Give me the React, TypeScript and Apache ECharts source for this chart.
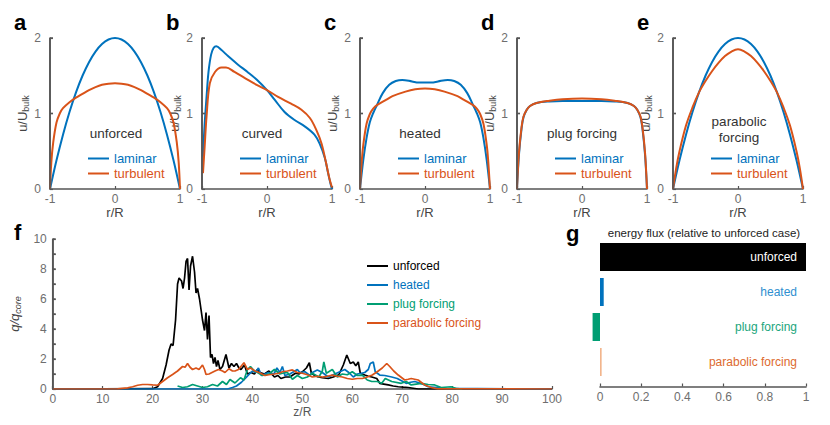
import React, { useEffect, useRef } from 'react';
import * as echarts from 'echarts';

const FONT = "'Liberation Sans', Arial, Helvetica, sans-serif";
const BLUE = '#0072BD';
const ORANGE = '#D95319';
const GREEN = '#009E73';
const AXIS = '#555555';
const TICKTXT = '#6e6e6e';

// ---------- panels a-e : velocity profiles [r/R, u/Ubulk] ----------
const PANEL_LETTERS = ['a', 'b', 'c', 'd', 'e'];
const PANEL_TITLES = ['unforced', 'curved', 'heated', 'plug forcing', 'parabolic\nforcing'];
const PROFILE_LEGEND = ['laminar', 'turbulent'];
const R_MIN = -1;
const R_MAX = 1;
const U_MAX = 2;
const Z_MIN = 0;
const Z_MAX = 100;
const Q_MAX = 10;

const A_LAMINAR = [[-1, 0], [-0.9, 0.38], [-0.8, 0.72], [-0.7, 1.02], [-0.6, 1.28], [-0.5, 1.5], [-0.4, 1.68], [-0.3, 1.82], [-0.2, 1.92], [-0.1, 1.98], [0, 2], [0.1, 1.98], [0.2, 1.92], [0.3, 1.82], [0.4, 1.68], [0.5, 1.5], [0.6, 1.28], [0.7, 1.02], [0.8, 0.72], [0.9, 0.38], [1, 0]];
const A_TURBULENT = [[-1, 0], [-0.98, 0.35], [-0.95, 0.62], [-0.9, 0.88], [-0.85, 1.0], [-0.8, 1.07], [-0.7, 1.15], [-0.6, 1.21], [-0.5, 1.26], [-0.4, 1.31], [-0.3, 1.35], [-0.2, 1.38], [-0.1, 1.395], [0, 1.4], [0.1, 1.395], [0.2, 1.38], [0.3, 1.35], [0.4, 1.31], [0.5, 1.26], [0.6, 1.21], [0.7, 1.15], [0.8, 1.07], [0.85, 1.0], [0.9, 0.88], [0.95, 0.62], [0.98, 0.35], [1, 0]];

const B_LAMINAR = [[-0.985, 0.43], [-0.96, 0.85], [-0.93, 1.22], [-0.9, 1.55], [-0.86, 1.78], [-0.82, 1.87], [-0.78, 1.89], [-0.7, 1.84], [-0.6, 1.76], [-0.45, 1.65], [-0.3, 1.55], [-0.16, 1.45], [0, 1.31], [0.12, 1.18], [0.27, 1.02], [0.43, 0.91], [0.58, 0.83], [0.73, 0.72], [0.81, 0.6], [0.89, 0.41], [0.94, 0.21], [0.98, 0.06], [1, 0]];
const B_TURBULENT = [[-0.985, 0.21], [-0.96, 0.55], [-0.93, 0.96], [-0.88, 1.4], [-0.8, 1.55], [-0.7, 1.61], [-0.63, 1.61], [-0.5, 1.55], [-0.34, 1.47], [-0.16, 1.38], [0, 1.31], [0.17, 1.22], [0.37, 1.13], [0.53, 1.05], [0.66, 0.94], [0.76, 0.78], [0.84, 0.6], [0.91, 0.34], [0.96, 0.14], [1, 0.02]];

const C_LAMINAR = [[-1, 0], [-0.95, 0.38], [-0.9, 0.67], [-0.85, 0.88], [-0.8, 1.0], [-0.74, 1.11], [-0.65, 1.27], [-0.55, 1.38], [-0.45, 1.43], [-0.35, 1.445], [-0.2, 1.425], [-0.1, 1.41], [0, 1.41], [0.1, 1.41], [0.2, 1.425], [0.35, 1.445], [0.45, 1.43], [0.55, 1.38], [0.65, 1.27], [0.74, 1.11], [0.8, 1.0], [0.85, 0.88], [0.9, 0.67], [0.95, 0.38], [1, 0]];
const C_TURBULENT = [[-1, 0], [-0.97, 0.4], [-0.95, 0.58], [-0.9, 0.86], [-0.85, 0.99], [-0.8, 1.06], [-0.74, 1.11], [-0.6, 1.18], [-0.5, 1.23], [-0.3, 1.29], [-0.15, 1.32], [0, 1.33], [0.15, 1.32], [0.3, 1.29], [0.5, 1.23], [0.6, 1.18], [0.74, 1.11], [0.8, 1.06], [0.85, 0.99], [0.9, 0.86], [0.95, 0.58], [0.97, 0.4], [1, 0]];

const D_LAMINAR = [[-1, 0], [-0.97, 0.45], [-0.93, 0.8], [-0.9, 0.95], [-0.85, 1.05], [-0.8, 1.1], [-0.7, 1.14], [-0.5, 1.16], [-0.3, 1.165], [0, 1.165], [0.3, 1.165], [0.5, 1.16], [0.7, 1.14], [0.8, 1.1], [0.85, 1.05], [0.9, 0.95], [0.93, 0.8], [0.97, 0.45], [1, 0]];
const D_TURBULENT = [[-1, 0], [-0.97, 0.48], [-0.93, 0.82], [-0.9, 0.96], [-0.85, 1.05], [-0.8, 1.1], [-0.7, 1.14], [-0.5, 1.17], [-0.3, 1.19], [0, 1.2], [0.3, 1.19], [0.5, 1.17], [0.7, 1.14], [0.8, 1.1], [0.85, 1.05], [0.9, 0.96], [0.93, 0.82], [0.97, 0.48], [1, 0]];

const E_LAMINAR = [[-1, 0], [-0.9, 0.38], [-0.8, 0.72], [-0.7, 1.02], [-0.6, 1.28], [-0.5, 1.5], [-0.4, 1.68], [-0.3, 1.82], [-0.2, 1.92], [-0.1, 1.98], [0, 2], [0.1, 1.98], [0.2, 1.92], [0.3, 1.82], [0.4, 1.68], [0.5, 1.5], [0.6, 1.28], [0.7, 1.02], [0.8, 0.72], [0.9, 0.38], [1, 0]];
const E_TURBULENT = [[-1, 0], [-0.95, 0.28], [-0.9, 0.5], [-0.8, 0.84], [-0.7, 1.08], [-0.6, 1.28], [-0.5, 1.43], [-0.4, 1.56], [-0.3, 1.67], [-0.2, 1.76], [-0.1, 1.82], [0, 1.85], [0.1, 1.82], [0.2, 1.76], [0.3, 1.67], [0.4, 1.56], [0.5, 1.43], [0.6, 1.28], [0.7, 1.08], [0.8, 0.84], [0.9, 0.5], [0.95, 0.28], [1, 0]];

const LAMINAR = [A_LAMINAR, B_LAMINAR, C_LAMINAR, D_LAMINAR, E_LAMINAR];
const TURBULENT = [A_TURBULENT, B_TURBULENT, C_TURBULENT, D_TURBULENT, E_TURBULENT];

// ---------- panel f : q/q_core vs z/R ----------
const F_NAMES = ['unforced', 'heated', 'plug forcing', 'parabolic forcing'];
const F_UNFORCED = [[0, 0], [20, 0.02], [21, 0.15], [22, 0.7], [22.7, 1.6], [23.3, 2.6], [23.7, 3.0], [24.1, 2.9], [24.6, 4.6], [25.0, 7.0], [25.3, 7.4], [25.8, 7.2], [26.1, 6.7], [26.4, 7.4], [26.7, 8.5], [27.0, 8.7], [27.3, 6.6], [27.6, 8.2], [28.0, 8.85], [28.4, 7.8], [28.7, 6.4], [29.0, 6.7], [29.4, 6.0], [29.7, 5.3], [30.0, 4.6], [30.4, 3.9], [30.7, 5.1], [31.0, 3.3], [31.3, 4.9], [31.6, 2.1], [31.9, 2.3], [32.2, 1.7], [32.5, 2.1], [32.8, 1.5], [33.1, 1.9], [33.5, 1.3], [34.0, 1.5], [34.7, 2.3], [35.3, 1.4], [35.8, 1.7], [36.3, 1.5], [36.8, 1.7], [37.3, 1.4], [37.7, 1.3], [38.4, 1.6], [39.0, 1.0], [39.7, 1.1], [40.4, 1.0], [41.0, 1.3], [41.5, 1.1], [42.4, 1.0], [43.3, 1.2], [44.4, 0.8], [45.1, 0.9], [45.7, 0.7], [46.6, 0.8], [47.5, 0.8], [48.6, 1.05], [49.3, 1.0], [50.0, 1.15], [50.8, 1.4], [51.4, 1.75], [51.8, 1.05], [52.5, 0.9], [53.2, 0.8], [54.0, 0.75], [55.2, 0.7], [56.2, 0.8], [57.3, 0.95], [58.2, 1.6], [58.9, 2.27], [59.6, 1.7], [60.2, 1.8], [60.7, 1.55], [61.2, 1.8], [61.6, 1.05], [62.5, 0.93], [63.2, 0.85], [63.9, 0.8], [64.9, 0.7], [65.5, 0.38], [66.3, 0.33], [67.2, 0.27], [68.2, 0.2], [69.2, 0.15], [70.2, 0.12], [71.2, 0.1], [72.2, 0.05], [73.2, 0], [80, 0], [100, 0]];
const F_HEATED = [[0, 0], [35, 0], [36, 0.1], [36.8, 0.2], [37.8, 0.45], [38.7, 0.75], [39.4, 1.0], [40, 1.2], [40.6, 1.1], [41.2, 1.4], [41.8, 0.9], [42.5, 1.0], [43.2, 1.1], [44.3, 1.0], [44.9, 1.4], [45.5, 1.1], [46, 1.5], [46.5, 0.9], [47.5, 1.0], [48.5, 1.2], [49, 1.3], [49.5, 1.1], [50.5, 1.15], [51.5, 0.9], [52, 1.1], [53, 1.27], [54, 1.1], [55.2, 0.8], [56.5, 1.0], [57.5, 1.15], [58.5, 1.3], [59.3, 1.1], [60.2, 0.8], [61, 1.0], [61.8, 1.05], [62.5, 1.1], [63.2, 1.3], [63.6, 1.7], [64.2, 1.8], [64.6, 1.15], [65.5, 0.93], [66.5, 0.9], [67.9, 0.8], [69, 0.7], [70.8, 0.38], [71.7, 0.45], [72.5, 0.5], [73.5, 0.4], [74.3, 0.3], [75.2, 0.15], [77, 0.1], [79, 0.02], [85, 0.02], [95, 0.01], [100, 0]];
const F_PLUG = [[25, 0.2], [26, 0.1], [27, 0.15], [28, 0.3], [29, 0.2], [30, 0.1], [31, 0.15], [32, 0.3], [33, 0.2], [34, 0.5], [34.8, 0.3], [35.5, 0.63], [36.5, 0.4], [37.6, 0.75], [38.3, 0.6], [39, 1.3], [39.6, 1.5], [40.4, 1.2], [41, 1.1], [42, 0.9], [43.3, 1.0], [44.4, 1.3], [45.5, 1.0], [46, 1.05], [47, 1.1], [48, 0.65], [49, 0.9], [50, 0.7], [51, 0.8], [52, 1.05], [53.3, 0.8], [54, 1.2], [54.3, 1.8], [54.8, 1.05], [56, 1.3], [57, 0.8], [58, 1.0], [59, 0.95], [60, 1.15], [61, 0.9], [62, 0.93], [63, 0.6], [63.9, 0.5], [65, 0.5], [65.9, 0.38], [66.6, 0.7], [67.9, 0.5], [69.8, 0.38], [70.8, 0.5], [71.8, 0.27], [73.8, 0.38], [75.2, 0.3], [76.5, 0.27], [77.8, 0.1], [79.8, 0.15], [81, 0.02], [82, 0]];
const F_PARABOLIC = [[0, 0], [13, 0.01], [15, 0.08], [16, 0.15], [17, 0.25], [18, 0.3], [19, 0.3], [20, 0.27], [21, 0.25], [22, 0.5], [23, 0.75], [24, 0.97], [25, 1.2], [26, 1.5], [26.5, 1.45], [27, 1.7], [27.5, 1.45], [28, 1.3], [28.7, 1.4], [29.3, 1.3], [30, 1.6], [30.4, 1.3], [30.7, 0.97], [31.3, 1.0], [31.9, 1.1], [32.5, 1.2], [33.2, 1.3], [34, 1.2], [34.5, 1.1], [35.3, 1.35], [36, 1.2], [36.5, 1.2], [37.2, 1.3], [38.3, 1.75], [39, 1.3], [39.6, 1.4], [40.5, 1.2], [41.3, 1.1], [42.5, 0.9], [43.3, 0.95], [44.4, 1.0], [45.3, 1.05], [46, 1.15], [47, 1.2], [48, 1.27], [49, 1.1], [50, 1.05], [51, 0.95], [52, 0.8], [53, 0.85], [54, 0.8], [55, 0.85], [56, 0.93], [57, 0.85], [58, 0.8], [59, 0.7], [60, 0.65], [61, 0.7], [62, 0.7], [63, 0.8], [64, 0.93], [65, 1.15], [66, 1.4], [66.9, 1.7], [67.5, 1.5], [68.3, 1.2], [69.2, 0.93], [70.5, 0.6], [71.2, 0.65], [71.8, 0.7], [72.5, 0.65], [73.2, 0.6], [74.5, 0.27], [75.8, 0.1], [77.1, 0.01], [100, 0]];
const F_DATA = [F_UNFORCED, F_HEATED, F_PLUG, F_PARABOLIC];

// ---------- panel g : energy flux relative to unforced ----------
const G_TITLE = 'energy flux (relative to unforced case)';
const G_CATEGORIES = ['unforced', 'heated', 'plug forcing', 'parabolic forcing'];
const G_VALUES = [1, 0.018, -0.036, 0.008];

// styles
const F_COLORS = ['#000000', BLUE, GREEN, ORANGE];
const G_BAR_COLORS = ['#000000', BLUE, GREEN, '#F2B58C'];
const G_LABEL_COLORS = ['#ffffff', '#2f8fd0', '#1aa57c', '#dd6a2e'];

// layout
const PANEL_LEFT = [50, 202, 360, 517, 673];
const PANEL_W = 130;
const PANEL_TOP = 38;
const PANEL_H = 151;
const F_W = 503;
const TICK_PX = 3;
const TITLE_X = [116, 262, 420, 582, 739];

// the vertical axis line + inside ticks, as a line series in the grid's own data space
function axisSeries(idx: number, xMin: number, xSpan: number, widthPx: number, yMax: number) {
  const tick = (TICK_PX * xSpan) / widthPx;
  const pts: any[] = [[xMin, 0], [xMin, yMax]];
  for (let v = 1; v <= yMax; v += 1) {
    pts.push(['-', '-']);
    pts.push([xMin, v]);
    pts.push([xMin + tick, v]);
  }
  return {
    type: 'line', name: 'axis-' + idx, xAxisIndex: idx, yAxisIndex: idx, data: pts,
    showSymbol: false, silent: true, clip: false, connectNulls: false, z: 5,
    lineStyle: { color: AXIS, width: 1.6 }, itemStyle: { color: AXIS },
    tooltip: { show: false }, emphasis: { disabled: true },
  };
}

export default function App() {
  const ref = useRef<HTMLDivElement>(null);

  useEffect(() => {
    if (!ref.current) return;
    const chart = echarts.init(ref.current, undefined, { renderer: 'svg' });

    const tickLabel = () => ({ color: TICKTXT, fontSize: 12, fontFamily: FONT });
    const xLine = () => ({ show: true, onZero: false, lineStyle: { color: AXIS, width: 1.6 } });
    const yLine = () => ({ show: true, onZero: false, lineStyle: { color: AXIS, width: 1.6 } });
    const ticks = () => ({ show: true, inside: true, length: 3, lineStyle: { color: AXIS, width: 1.2 } });

    const grids: any[] = [];
    const xAxes: any[] = [];
    const yAxes: any[] = [];
    const series: any[] = [];
    const legends: any[] = [];
    const graphics: any[] = [];

    PANEL_LEFT.forEach((left, i) => {
      grids.push({ left, top: PANEL_TOP, width: PANEL_W, height: PANEL_H });
      xAxes.push({
        type: 'value', gridIndex: i, min: R_MIN, max: R_MAX, interval: 1,
        axisLine: xLine(), axisTick: ticks(), splitLine: { show: false },
        axisLabel: { ...tickLabel(), margin: 4 },
        name: 'r/R', nameLocation: 'middle', nameGap: 16,
        nameTextStyle: { color: '#444', fontSize: 13, fontFamily: FONT },
      });
      yAxes.push({
        type: 'value', gridIndex: i, min: 0, max: U_MAX, interval: 1,
        axisLine: yLine(), axisTick: ticks(), splitLine: { show: false },
        axisLabel: { ...tickLabel(), margin: 9 },
        name: '{m|u/U}{s|bulk}', nameLocation: 'middle', nameGap: 15, nameRotate: 90,
        nameTextStyle: {
          rich: {
            m: { color: '#444', fontSize: 13, fontFamily: FONT },
            s: { color: '#444', fontSize: 9, fontFamily: FONT, padding: [7, 0, 0, 0] },
          },
        },
      });
      series.push(axisSeries(i, R_MIN, R_MAX - R_MIN, PANEL_W, U_MAX));
      series.push({
        type: 'line', name: 'laminar', xAxisIndex: i, yAxisIndex: i, data: LAMINAR[i],
        smooth: 0.35, showSymbol: false, lineStyle: { color: BLUE, width: 2 }, itemStyle: { color: BLUE },
      });
      series.push({
        type: 'line', name: 'turbulent', xAxisIndex: i, yAxisIndex: i, data: TURBULENT[i],
        smooth: 0.35, showSymbol: false, lineStyle: { color: ORANGE, width: 2 }, itemStyle: { color: ORANGE },
      });
      legends.push({
        left: left + 33, top: 147, orient: 'vertical', icon: 'rect', itemWidth: 21, itemHeight: 2, itemGap: 2,
        selectedMode: false,
        textStyle: { fontSize: 13, fontFamily: FONT },
        data: [
          { name: PROFILE_LEGEND[0], textStyle: { color: BLUE } },
          { name: PROFILE_LEGEND[1], textStyle: { color: ORANGE } },
        ],
      });
      graphics.push({
        type: 'text', x: left - 36, y: 22,
        style: { text: PANEL_LETTERS[i], font: `bold 22px ${FONT}`, fill: '#000', textAlign: 'left', textVerticalAlign: 'middle' },
      });
      graphics.push({
        type: 'text', x: TITLE_X[i], y: i === 4 ? 129 : 133,
        style: { text: PANEL_TITLES[i], font: `13.5px ${FONT}`, fill: '#333', textAlign: 'center', textVerticalAlign: 'middle', lineHeight: 16 },
      });
    });

    // panel f
    grids.push({ left: 49, top: 239, width: F_W, height: 150 });
    xAxes.push({
      type: 'value', gridIndex: 5, min: Z_MIN, max: Z_MAX, interval: 10,
      axisLine: xLine(), axisTick: ticks(), splitLine: { show: false },
      axisLabel: { ...tickLabel(), margin: 4 },
      name: 'z/R', nameLocation: 'middle', nameGap: 17,
      nameTextStyle: { color: '#555', fontSize: 12, fontFamily: FONT },
    });
    yAxes.push({
      type: 'value', gridIndex: 5, min: 0, max: Q_MAX, interval: 1,
      axisLine: yLine(), axisTick: ticks(), splitLine: { show: false },
      axisLabel: { ...tickLabel(), margin: 6, formatter: (v: number) => (v % 2 === 0 ? String(v) : '') },
      name: '{m|q/q}{s|core}', nameLocation: 'middle', nameGap: 18, nameRotate: 90,
      nameTextStyle: {
        rich: {
          m: { color: '#444', fontSize: 13, fontFamily: FONT, fontStyle: 'italic' },
          s: { color: '#444', fontSize: 9, fontFamily: FONT, fontStyle: 'italic', padding: [7, 0, 0, 0] },
        },
      },
    });
    series.push(axisSeries(5, Z_MIN, Z_MAX - Z_MIN, F_W, Q_MAX));
    F_NAMES.forEach((name, k) => {
      series.push({
        type: 'line', name, xAxisIndex: 5, yAxisIndex: 5, data: F_DATA[k],
        showSymbol: false, lineStyle: { color: F_COLORS[k], width: 1.7 }, itemStyle: { color: F_COLORS[k] },
      });
    });
    legends.push({
      left: 362, top: 255, orient: 'vertical', icon: 'rect', itemWidth: 21, itemHeight: 2, itemGap: 7,
      selectedMode: false,
      textStyle: { fontSize: 12, fontFamily: FONT },
      data: F_NAMES.map((n, k) => ({ name: n, textStyle: { color: F_COLORS[k] } })),
    });
    graphics.push({
      type: 'text', x: 14, y: 232,
      style: { text: 'f', font: `bold 22px ${FONT}`, fill: '#000', textAlign: 'left', textVerticalAlign: 'middle' },
    });

    // panel g
    grids.push({ left: 600, top: 239.5, width: 206, height: 140 });
    xAxes.push({
      type: 'value', gridIndex: 6, min: 0, max: 1, interval: 0.2, offset: 7,
      axisLine: xLine(), axisTick: ticks(), splitLine: { show: false },
      axisLabel: { ...tickLabel(), margin: 4 },
    });
    yAxes.push({
      type: 'category', gridIndex: 6, data: G_CATEGORIES, inverse: true, position: 'right', z: 10,
      axisLine: { show: false }, axisTick: { show: false }, splitLine: { show: false },
      axisLabel: {
        inside: true, margin: 9, fontSize: 12, fontFamily: FONT,
        color: (_v: any, idx: number) => G_LABEL_COLORS[idx],
      },
    });
    series.push({
      type: 'bar', name: 'energy flux', xAxisIndex: 6, yAxisIndex: 6, clip: false,
      barCategoryGap: '20%',
      data: G_VALUES.map((v, k) => ({ value: v, itemStyle: { color: G_BAR_COLORS[k] } })),
    });
    graphics.push({
      type: 'text', x: 566, y: 233,
      style: { text: 'g', font: `bold 22px ${FONT}`, fill: '#000', textAlign: 'left', textVerticalAlign: 'middle' },
    });
    graphics.push({
      type: 'text', x: 704, y: 233,
      style: { text: G_TITLE, font: `11.5px ${FONT}`, fill: '#222', textAlign: 'center', textVerticalAlign: 'middle' },
    });

    chart.setOption({
      animation: false,
      textStyle: { fontFamily: FONT },
      grid: grids,
      xAxis: xAxes,
      yAxis: yAxes,
      legend: legends,
      series,
      graphic: graphics,
    });

    return () => chart.dispose();
  }, []);

  return <div ref={ref} style={{ position: 'absolute', left: 0, top: 0, width: 830, height: 425 }} />;
}
